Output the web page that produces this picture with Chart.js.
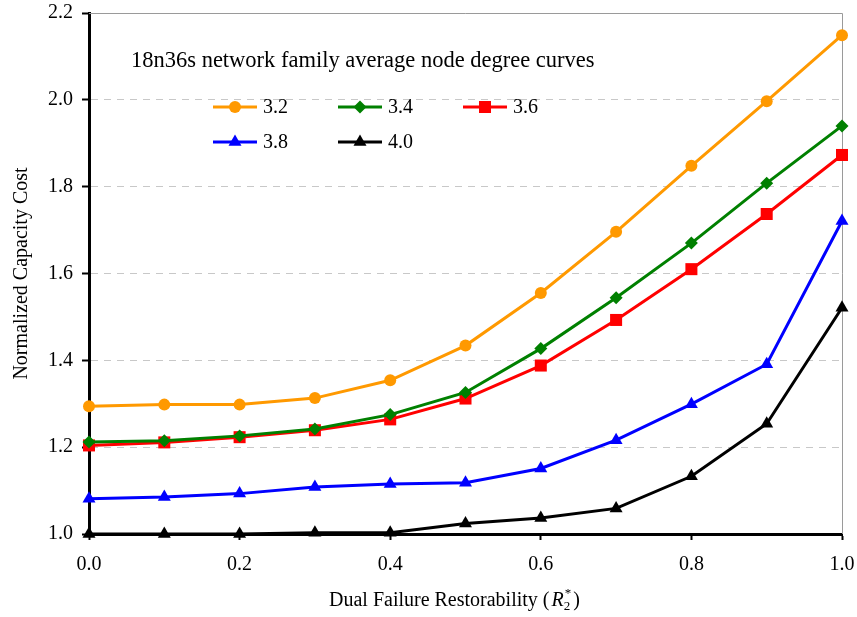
<!DOCTYPE html>
<html>
<head>
<meta charset="utf-8">
<script src="https://cdn.jsdelivr.net/npm/chart.js@4.4.1/dist/chart.umd.min.js"></script>
<style>
  html, body { margin: 0; padding: 0; background: #fff; }
  #wrap { width: 857px; height: 617px; position: relative; }
</style>
</head>
<body>
<div id="wrap"><canvas id="c" width="857" height="617"></canvas></div>
<script>
// ---- Data ----
const xValues = [0.0, 0.1, 0.2, 0.3, 0.4, 0.5, 0.6, 0.7, 0.8, 0.9, 1.0];
const seriesLabels = ['3.2', '3.4', '3.6', '3.8', '4.0'];
const deg32 = [1.294, 1.298, 1.298, 1.313, 1.354, 1.434, 1.555, 1.696, 1.848, 1.997, 2.149];
const deg34 = [1.212, 1.215, 1.226, 1.242, 1.275, 1.326, 1.427, 1.544, 1.670, 1.808, 1.940];
const deg36 = [1.204, 1.211, 1.223, 1.239, 1.264, 1.312, 1.388, 1.493, 1.610, 1.737, 1.873];
const deg38 = [1.081, 1.085, 1.093, 1.108, 1.115, 1.118, 1.151, 1.216, 1.299, 1.391, 1.721];
const deg40 = [1.000, 1.000, 1.000, 1.003, 1.003, 1.024, 1.037, 1.059, 1.133, 1.254, 1.521];
const chartTitle = '18n36s network family average node degree curves';
const yTitle = 'Normalized Capacity Cost';
const xTitleMain = 'Dual Failure Restorability (';

// ---- Styles ----
const FONT = "'Times New Roman', 'Liberation Serif', 'DejaVu Serif', serif";
const colors = ['#FF9900', '#008000', '#FF0000', '#0000FF', '#000000'];
const styles = ['circle', 'rectRot', 'rect', 'triangle', 'triangle'];
const radii = [6, 6.5, 8.5, 7.5, 7.5];
const seriesData = [deg32, deg34, deg36, deg38, deg40];

const datasets = seriesData.map((vals, i) => ({
  label: seriesLabels[i],
  data: vals.map((v, j) => ({ x: xValues[j], y: v })),
  borderColor: colors[i],
  backgroundColor: colors[i],
  borderWidth: 3,
  pointStyle: styles[i],
  pointRadius: radii[i],
  pointHoverRadius: radii[i],
  pointBorderWidth: 0,
  pointBackgroundColor: colors[i],
  tension: 0,
  clip: false
}));

const framePlugin = {
  id: 'frame',
  beforeDatasetsDraw(chart) {
    const { ctx, chartArea: a } = chart;
    ctx.save();
    ctx.strokeStyle = '#9a9a9a';
    ctx.lineWidth = 1;
    ctx.beginPath();
    ctx.moveTo(a.left, a.top + 0.5);
    ctx.lineTo(a.right + 0.5, a.top + 0.5);
    ctx.lineTo(a.right + 0.5, a.bottom);
    ctx.stroke();
    ctx.restore();
  }
};

const textPlugin = {
  id: 'texts',
  afterDatasetsDraw(chart) {
    const { ctx, chartArea: a } = chart;
    ctx.save();
    ctx.fillStyle = '#000';
    // chart title inside plot
    ctx.font = '22.5px ' + FONT;
    ctx.textAlign = 'left';
    ctx.textBaseline = 'middle';
    ctx.fillText(chartTitle, 131, 61);

    // legend
    chart.data.datasets.forEach((ds, i) => {
      const col = i % 3, row = Math.floor(i / 3);
      const x0 = 213 + col * 125;
      const y = 107 + row * 35;
      ctx.strokeStyle = ds.borderColor;
      ctx.lineWidth = 3;
      ctx.beginPath();
      ctx.moveTo(x0, y);
      ctx.lineTo(x0 + 44, y);
      ctx.stroke();
      ctx.fillStyle = ds.backgroundColor;
      ctx.strokeStyle = ds.backgroundColor;
      Chart.helpers.drawPoint(ctx, {
        pointStyle: ds.pointStyle, radius: ds.pointRadius, rotation: 0, borderWidth: 0
      }, x0 + 22, y);
      ctx.fillStyle = '#000';
      ctx.font = '20px ' + FONT;
      ctx.textAlign = 'left';
      ctx.textBaseline = 'middle';
      ctx.fillText(ds.label, x0 + 50, y + 1);
    });

    // y title
    ctx.save();
    ctx.translate(22, (a.top + a.bottom) / 2);
    ctx.rotate(-Math.PI / 2);
    ctx.font = '20px ' + FONT;
    ctx.textAlign = 'center';
    ctx.textBaseline = 'middle';
    ctx.fillStyle = '#000';
    ctx.fillText(yTitle, 0, 0);
    ctx.restore();

    // x title with italic R, subscript 2, superscript *
    const base = 606;
    let x = 329;
    ctx.textAlign = 'left';
    ctx.textBaseline = 'alphabetic';
    ctx.font = '20px ' + FONT;
    ctx.fillText(xTitleMain, x, base);
    x += ctx.measureText(xTitleMain).width + 2;
    ctx.font = 'italic 20px ' + FONT;
    ctx.fillText('R', x, base);
    x += ctx.measureText('R').width;
    ctx.font = '13px ' + FONT;
    ctx.fillText('2', x, base + 4);
    ctx.fillText('*', x + 1, base - 9);
    x += ctx.measureText('2').width + 3;
    ctx.font = '20px ' + FONT;
    ctx.fillText(')', x, base);
    ctx.restore();
  }
};

new Chart(document.getElementById('c'), {
  type: 'line',
  data: { datasets },
  plugins: [framePlugin, textPlugin],
  options: {
    responsive: false,
    animation: false,
    devicePixelRatio: 1,
    layout: { padding: { top: 13, right: 15, left: 0, bottom: 0 } },
    plugins: { legend: { display: false }, title: { display: false }, tooltip: { enabled: false } },
    scales: {
      x: {
        type: 'linear',
        min: 0, max: 1,
        afterFit(s) { s.height = 83; s.paddingLeft = 0; s.paddingRight = 0; },
        ticks: {
          stepSize: 0.2,
          padding: 13,
          color: '#000',
          font: { family: FONT, size: 20 },
          maxRotation: 0,
          callback: v => Number(v).toFixed(1)
        },
        grid: { drawOnChartArea: false, drawTicks: true, tickLength: 6, tickColor: '#000', tickWidth: 2 },
        border: { display: true, color: '#000', width: 3 }
      },
      y: {
        type: 'linear',
        min: 1, max: 2.2,
        afterFit(s) { s.width = 89; s.paddingTop = 0; s.paddingBottom = 0; },
        ticks: {
          stepSize: 0.2,
          padding: 9,
          color: '#000',
          font: { family: FONT, size: 20 },
          callback: v => Number(v).toFixed(1)
        },
        grid: {
          drawOnChartArea: true,
          drawTicks: true,
          tickLength: 7,
          tickColor: '#000',
          tickWidth: 2,
          tickBorderDash: [],
          lineWidth: 1,
          color: ctx => {
            const v = ctx.tick ? ctx.tick.value : null;
            if (v === null) return 'rgba(0,0,0,0)';
            if (Math.abs(v - 1) < 1e-6 || Math.abs(v - 2.2) < 1e-6) return 'rgba(0,0,0,0)';
            return '#c8c8c8';
          }
        },
        border: { display: true, color: '#000', width: 3, dash: [7, 6] }
      }
    }
  }
});
</script>
</body>
</html>
